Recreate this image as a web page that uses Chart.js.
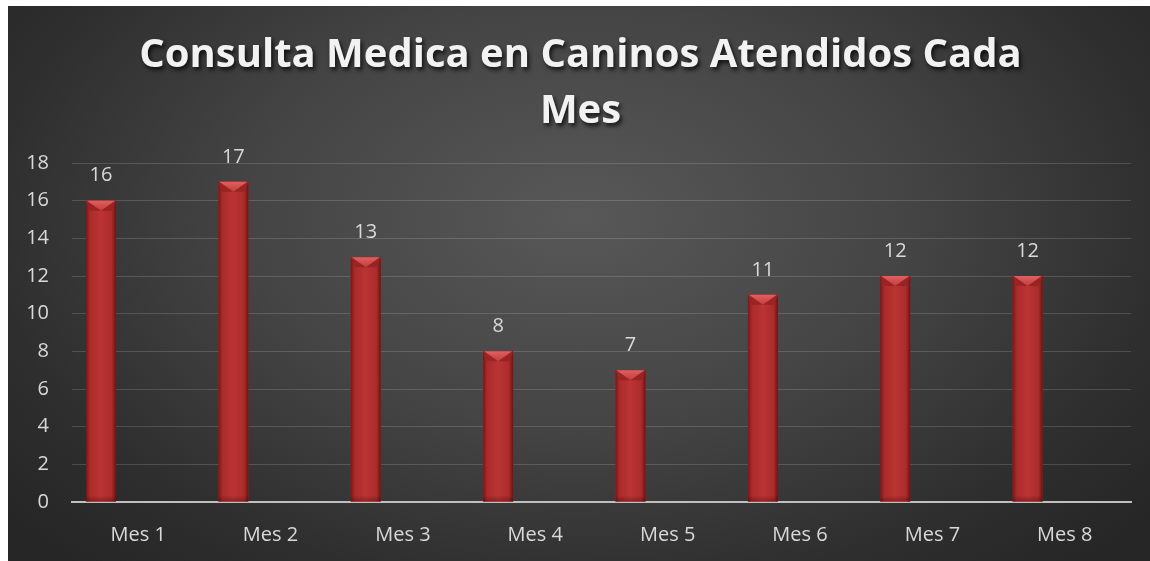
<!DOCTYPE html>
<html>
<head>
<meta charset="utf-8">
<script src="https://cdn.jsdelivr.net/npm/chart.js@4.4.1/dist/chart.umd.min.js"></script>
<style>
  html, body { margin: 0; padding: 0; background: #ffffff; width: 1150px; height: 561px; overflow: hidden; }
  #wrap { position: absolute; left: 8px; top: 6px; width: 1142px; height: 555px;
    background: radial-gradient(ellipse 65% 85% at 50% 38%, #585858 0%, #444444 45%, #2e2e2e 80%, #262626 100%); }
  canvas { display: block; }
</style>
</head>
<body>
<div id="wrap"><canvas id="c" width="1142" height="555"></canvas></div>
<script>
const categories = ['Mes 1', 'Mes 2', 'Mes 3', 'Mes 4', 'Mes 5', 'Mes 6', 'Mes 7', 'Mes 8'];
const consultas = [16, 17, 13, 8, 7, 11, 12, 12];
const emptySeriesA = [null, null, null, null, null, null, null, null];
const emptySeriesB = [null, null, null, null, null, null, null, null];
const titleLines = ['Consulta Medica en Caninos Atendidos Cada', 'Mes'];
const yMin = 0, yMax = 18, yStep = 2;

const bevelPlugin = {
  id: 'bevelBars',
  afterDatasetsDraw(chart) {
    const ctx = chart.ctx;
    const meta = chart.getDatasetMeta(0);
    meta.data.forEach((bar, i) => {
      const w = bar.width, l = bar.x - w / 2, r = bar.x + w / 2, t = bar.y, b = bar.base;
      ctx.save();
      const g = ctx.createLinearGradient(l, 0, r, 0);
      g.addColorStop(0, '#7c1616');
      g.addColorStop(0.14, '#ab2b2b');
      g.addColorStop(0.5, '#bb3434');
      g.addColorStop(0.86, '#ab2b2b');
      g.addColorStop(1, '#6e1212');
      ctx.fillStyle = g;
      ctx.fillRect(l, t, w, b - t);
      const bh = Math.min(10, (b - t) / 2);
      ctx.beginPath();
      ctx.moveTo(l, t); ctx.lineTo(r, t); ctx.lineTo(r - 4, t + bh); ctx.lineTo(l + 4, t + bh); ctx.closePath();
      ctx.fillStyle = '#9a2323';
      ctx.fill();
      ctx.beginPath();
      ctx.moveTo(l + 1, t); ctx.lineTo(r - 1, t); ctx.lineTo(bar.x, t + bh); ctx.closePath();
      const tg = ctx.createLinearGradient(0, t, 0, t + bh);
      tg.addColorStop(0, '#e06060');
      tg.addColorStop(1, '#c43c3c');
      ctx.fillStyle = tg;
      ctx.fill();
      const sg = ctx.createLinearGradient(0, b - 6, 0, b);
      sg.addColorStop(0, 'rgba(60,0,0,0)');
      sg.addColorStop(1, 'rgba(60,0,0,0.35)');
      ctx.fillStyle = sg;
      ctx.fillRect(l, b - 6, w, 6);
      ctx.restore();
      ctx.save();
      ctx.font = '20px "Open Sans"';
      ctx.fillStyle = '#d9d9d9';
      ctx.textAlign = 'center';
      ctx.textBaseline = 'middle';
      ctx.fillText(String(consultas[i]), bar.x, t - 25);
      ctx.restore();
    });
  }
};

const chart = new Chart(document.getElementById('c'), {
  type: 'bar',
  data: {
    labels: categories,
    datasets: [
      { label: 'Consultas', data: consultas, backgroundColor: '#a82a2a', borderWidth: 0 },
      { label: 'Serie 2', data: emptySeriesA, backgroundColor: '#a82a2a' },
      { label: 'Serie 3', data: emptySeriesB, backgroundColor: '#a82a2a' }
    ]
  },
  options: {
    responsive: false,
    animation: false,
    categoryPercentage: 0.843,
    barPercentage: 0.806,
    layout: { padding: { left: 0, right: 19, top: 0, bottom: 14 } },
    plugins: {
      legend: { display: false },
      tooltip: { enabled: false },
      title: {
        display: true,
        text: titleLines,
        color: '#f2f2f2',
        font: { family: '"Open Sans"', size: 40, weight: 'bold', lineHeight: 1.4 },
        padding: { top: 22, bottom: 23 }
      }
    },
    scales: {
      x: {
        afterFit(scale) { scale.height = 45; },
        grid: { display: false, drawTicks: false },
        border: { display: true, color: '#bfbfbf', width: 2 },
        ticks: { color: '#d9d9d9', font: { family: '"Open Sans"', size: 20 }, padding: 21, maxRotation: 0 }
      },
      y: {
        min: yMin, max: yMax,
        afterFit(scale) { scale.width = 64; },
        grid: { color: (c) => c.tick && c.tick.value === 0 ? 'rgba(0,0,0,0)' : 'rgba(255,255,255,0.15)', lineWidth: 1, drawTicks: false },
        border: { display: false },
        ticks: { stepSize: yStep, color: '#d9d9d9', font: { family: '"Open Sans"', size: 20 }, padding: 23 }
      }
    }
  },
  plugins: [bevelPlugin]
});

if (chart.titleBlock) {
  const origDraw = chart.titleBlock.draw;
  chart.titleBlock.draw = function () {
    const ctx = this.ctx;
    ctx.save();
    ctx.translate(11, 0);
    ctx.shadowColor = 'rgba(0,0,0,0.75)';
    ctx.shadowOffsetX = 2;
    ctx.shadowOffsetY = 3;
    ctx.shadowBlur = 4;
    origDraw.apply(this, arguments);
    ctx.restore();
  };
  chart.draw();
}
</script>
</body>
</html>
